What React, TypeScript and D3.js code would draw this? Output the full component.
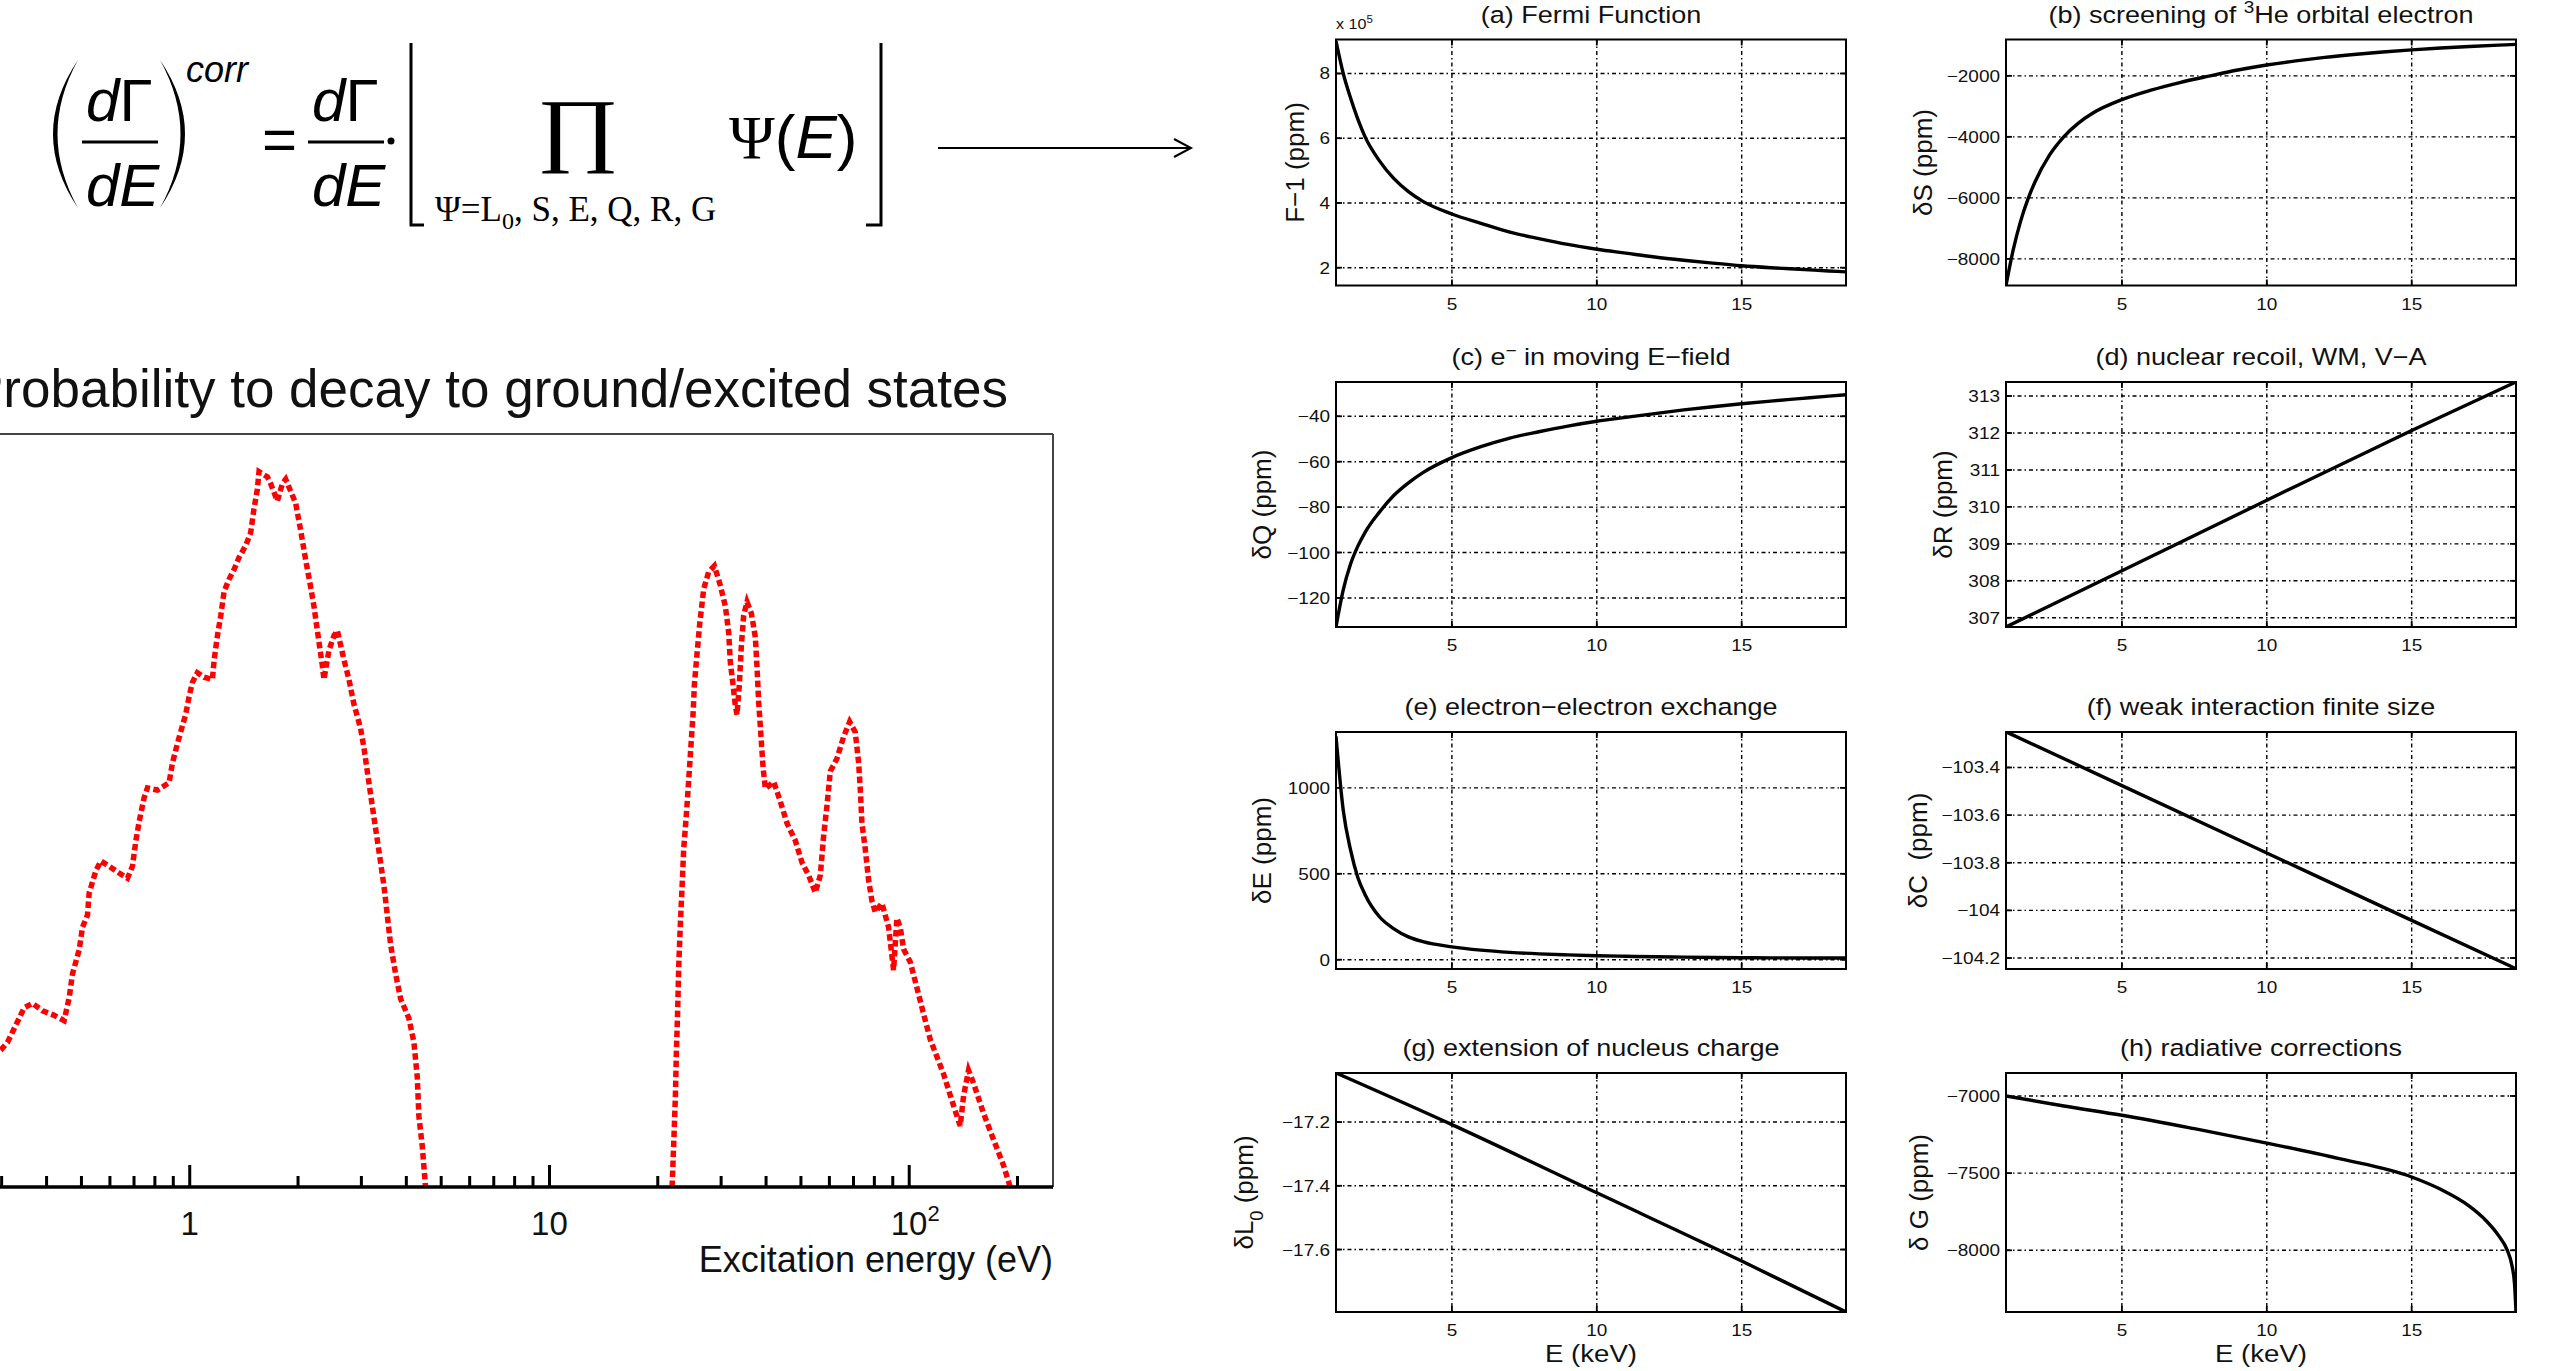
import React from 'react';
import * as d3 from 'd3';

// left plot: probability to decay to ground / excited states vs excitation energy (eV)
const lowBandEnergy = [0.27, 0.2985, 0.3114, 0.3286, 0.3466, 0.3656, 0.3898, 0.4199, 0.4475, 0.4621, 0.4721, 0.4928, 0.5034, 0.5196, 0.5252, 0.5481, 0.566, 0.5969, 0.6364, 0.6713, 0.693, 0.7079, 0.7232, 0.7467, 0.7628, 0.8131, 0.8762, 0.8952, 0.9242, 0.9747, 0.9957, 1.017, 1.05, 1.096, 1.156, 1.169, 1.194, 1.219, 1.246, 1.286, 1.328, 1.371, 1.431, 1.477, 1.509, 1.542, 1.558, 1.644, 1.679, 1.752, 1.809, 1.848, 1.908, 1.97, 2.034, 2.1, 2.168, 2.215, 2.263, 2.336, 2.361, 2.438, 2.517, 2.572, 2.684, 2.771, 2.861, 2.985, 3.05, 3.148, 3.251, 3.357, 3.466, 3.541, 3.617, 3.735, 3.856, 4.067, 4.199, 4.29, 4.335, 4.428, 4.524];
const lowBandProb = [0.165, 0.182, 0.192, 0.215, 0.238, 0.244, 0.234, 0.228, 0.221, 0.251, 0.283, 0.315, 0.345, 0.361, 0.39, 0.42, 0.433, 0.426, 0.417, 0.41, 0.426, 0.459, 0.485, 0.517, 0.53, 0.527, 0.537, 0.563, 0.589, 0.628, 0.651, 0.67, 0.683, 0.677, 0.674, 0.7, 0.732, 0.758, 0.791, 0.807, 0.82, 0.836, 0.852, 0.869, 0.901, 0.927, 0.95, 0.943, 0.934, 0.911, 0.934, 0.94, 0.924, 0.908, 0.872, 0.833, 0.797, 0.771, 0.739, 0.693, 0.674, 0.713, 0.732, 0.739, 0.7, 0.674, 0.641, 0.609, 0.583, 0.537, 0.491, 0.446, 0.4, 0.361, 0.322, 0.283, 0.25, 0.224, 0.192, 0.146, 0.094, 0.055, 0];
const highBandEnergy = [21.92, 22.15, 22.39, 22.53, 22.72, 22.87, 23.12, 23.36, 23.61, 24.02, 24.38, 24.74, 25.06, 25.28, 25.71, 26.16, 26.83, 27.7, 28.73, 29.85, 30.83, 31.49, 31.83, 32.38, 32.86, 33.21, 33.71, 34.15, 34.66, 35.41, 36.4, 37.35, 37.75, 38.15, 38.73, 39.23, 39.81, 42.0, 43.83, 45.74, 48.24, 50.34, 52.53, 54.82, 56.6, 57.81, 59.06, 60.34, 62.97, 65.71, 68.29, 70.79, 72.32, 73.1, 73.88, 75.47, 77.09, 78.76, 80.46, 83.96, 87.62, 90.47, 92.41, 94.41, 96.45, 100.6, 105.0, 109.6, 114.4, 119.4, 124.6, 131.4, 138.6, 141.6, 146.2, 150.9, 160.9, 171.5, 182.8, 190.8];
const highBandProb = [0, 0.058, 0.121, 0.179, 0.236, 0.293, 0.351, 0.397, 0.449, 0.495, 0.541, 0.587, 0.627, 0.667, 0.708, 0.748, 0.794, 0.817, 0.825, 0.799, 0.771, 0.736, 0.696, 0.667, 0.639, 0.627, 0.667, 0.719, 0.759, 0.777, 0.762, 0.73, 0.69, 0.644, 0.598, 0.558, 0.529, 0.538, 0.512, 0.483, 0.46, 0.431, 0.414, 0.391, 0.414, 0.466, 0.506, 0.552, 0.569, 0.598, 0.618, 0.604, 0.564, 0.529, 0.483, 0.449, 0.408, 0.38, 0.365, 0.377, 0.345, 0.288, 0.357, 0.345, 0.316, 0.299, 0.265, 0.23, 0.196, 0.173, 0.15, 0.115, 0.081, 0.121, 0.155, 0.138, 0.098, 0.063, 0.029, 0];
const excitationMajor = [0.1, 1, 10, 100];
const excitationMinor = [0.2, 0.3, 0.4, 0.5, 0.6, 0.7, 0.8, 0.9, 2, 3, 4, 5, 6, 7, 8, 9, 20, 30, 40, 50, 60, 70, 80, 90, 200];

// correction panels, E in keV
const energyKeV = [1, 1.25, 1.5, 1.75, 2, 2.5, 3, 3.5, 4, 5, 6, 7, 8, 9, 10, 11, 12, 13, 14, 15, 16, 17, 18, 18.6];
const fermiVals = [9.0, 8.0, 7.25, 6.6, 6.05, 5.3, 4.75, 4.35, 4.05, 3.66, 3.37, 3.1, 2.9, 2.72, 2.57, 2.45, 2.33, 2.23, 2.14, 2.06, 2.0, 1.95, 1.9, 1.87];
const screeningVals = [-8870, -7700, -6780, -6060, -5480, -4600, -3990, -3550, -3220, -2780, -2470, -2220, -2010, -1810, -1645, -1510, -1395, -1300, -1220, -1150, -1090, -1040, -995, -970];
const movingFieldVals = [-132.8, -116.5, -105.2, -97.3, -91.2, -82.2, -74.8, -69.3, -64.8, -58.2, -53.4, -49.6, -46.8, -44.3, -42.2, -40.5, -38.8, -37.2, -35.8, -34.5, -33.3, -32.2, -31.1, -30.5];
const exchangeVals = [1300, 870, 640, 480, 380, 250, 180, 133, 105, 75, 56, 43, 34, 28, 23, 20, 17, 15, 13, 11.5, 10.8, 10.2, 9.8, 9.6];
const lineEnergy = [1, 5, 10, 15, 18.6];
const recoilVals = [306.75, 308.27, 310.18, 312.07, 313.38];
const finiteSizeVals = [-103.25, -103.476, -103.759, -104.042, -104.245];
const nucleusChargeVals = [-17.046, -17.208, -17.422, -17.636, -17.796];
const radiativeEnergy = [1, 3, 5, 7.5, 10, 12.5, 15, 16, 17, 17.5, 18, 18.3, 18.45, 18.55, 18.6];
const radiativeVals = [-7000, -7065, -7125, -7212, -7305, -7406, -7525, -7605, -7715, -7795, -7905, -8000, -8090, -8220, -8400];
const keVTicks = [5, 10, 15];

const SANS = 'Liberation Sans, Arial, Helvetica, sans-serif';
const SERIF = 'Liberation Serif, Times New Roman, DejaVu Serif, serif';
const SX = 1.15; // figure text is a little wider than tall
const fmt = (d: number) => String(d).replace('-', '\u2212');

const cols = [[1336, 1846], [2006, 2516]];
const rows = [[39.5, 285.5], [382, 627], [732, 969], [1073, 1312]];

const sup = (s: string) => <tspan baselineShift="super" fontSize="70%">{s}</tspan>;

const panels = [
  { id: 'a', col: 0, row: 0, xs: energyKeV, ys: fermiVals, yDomain: [1.45, 9.05], yTicks: [2, 4, 6, 8], labX: 1295,
    title: <>(a) Fermi Function</>, ylabel: <>F{'\u2212'}1 (ppm)</> },
  { id: 'b', col: 1, row: 0, xs: energyKeV, ys: screeningVals, yDomain: [-8874, -809], yTicks: [-8000, -6000, -4000, -2000], labX: 1923,
    title: <>(b) screening of {sup('3')}He orbital electron</>, ylabel: <>δS (ppm)</> },
  { id: 'c', col: 0, row: 1, xs: energyKeV, ys: movingFieldVals, yDomain: [-132.8, -24.9], yTicks: [-120, -100, -80, -60, -40], labX: 1262,
    title: <>(c) e{sup('\u2212')} in moving E{'\u2212'}field</>, ylabel: <>δQ (ppm)</> },
  { id: 'd', col: 1, row: 1, xs: lineEnergy, ys: recoilVals, yDomain: [306.75, 313.38], yTicks: [307, 308, 309, 310, 311, 312, 313], labX: 1943,
    title: <>(d) nuclear recoil, WM, V{'\u2212'}A</>, ylabel: <>δR (ppm)</> },
  { id: 'e', col: 0, row: 2, xs: energyKeV, ys: exchangeVals, yDomain: [-54, 1325], yTicks: [0, 500, 1000], labX: 1262,
    title: <>(e) electron{'\u2212'}electron exchange</>, ylabel: <>δE (ppm)</> },
  { id: 'f', col: 1, row: 2, xs: lineEnergy, ys: finiteSizeVals, yDomain: [-104.246, -103.251], yTicks: [-104.2, -104, -103.8, -103.6, -103.4], labX: 1918,
    title: <>(f) weak interaction finite size</>, ylabel: <>δC  (ppm)</> },
  { id: 'g', col: 0, row: 3, xs: lineEnergy, ys: nucleusChargeVals, yDomain: [-17.796, -17.046], yTicks: [-17.6, -17.4, -17.2], labX: 1244,
    title: <>(g) extension of nucleus charge</>, ylabel: <>δL<tspan baselineShift="sub" fontSize="70%">0</tspan> (ppm)</> },
  { id: 'h', col: 1, row: 3, xs: radiativeEnergy, ys: radiativeVals, yDomain: [-8400, -6851], yTicks: [-8000, -7500, -7000], labX: 1919,
    title: <>(h) radiative corrections</>, ylabel: <>δ G (ppm)</> },
];

function SText(props: { x: number; y: number; size: number; anchor?: string; children: React.ReactNode; style?: any }) {
  return (
    <text transform={`translate(${props.x},${props.y}) scale(${SX},1)`} fontSize={props.size}
      textAnchor={props.anchor || 'start'} fontFamily={SANS} fill="#111" style={props.style}>
      {props.children}
    </text>
  );
}

function Panel({ p }: { p: any }) {
  const [x0, x1] = cols[p.col];
  const [y0, y1] = rows[p.row];
  const x = d3.scaleLinear().domain([1, 18.6]).range([x0, x1]);
  const y = d3.scaleLinear().domain(p.yDomain).range([y1, y0]);
  const line = d3.line<number>()
    .x((d, i) => x(p.xs[i]))
    .y(d => y(d))
    .curve(d3.curveMonotoneX);
  const grid = '4 3 1.5 3';
  const tl = 6;
  return (
    <g>
      <clipPath id={`clip-${p.id}`}>
        <rect x={x0} y={y0} width={x1 - x0} height={y1 - y0} />
      </clipPath>
      {keVTicks.map(t => (
        <g key={'vx' + t}>
          <line x1={x(t)} x2={x(t)} y1={y0} y2={y1} stroke="#000" strokeWidth={1.4} strokeDasharray={grid} />
          <line x1={x(t)} x2={x(t)} y1={y1} y2={y1 - tl} stroke="#000" strokeWidth={1.8} />
          <line x1={x(t)} x2={x(t)} y1={y0} y2={y0 + tl} stroke="#000" strokeWidth={1.8} />
          <SText x={x(t)} y={y1 + 24} size={16.5} anchor="middle">{t}</SText>
        </g>
      ))}
      {p.yTicks.map((t: number) => (
        <g key={'hy' + t}>
          <line x1={x0} x2={x1} y1={y(t)} y2={y(t)} stroke="#000" strokeWidth={1.4} strokeDasharray={grid} />
          <line x1={x0} x2={x0 + tl} y1={y(t)} y2={y(t)} stroke="#000" strokeWidth={1.8} />
          <line x1={x1} x2={x1 - tl} y1={y(t)} y2={y(t)} stroke="#000" strokeWidth={1.8} />
          <SText x={x0 - 6} y={y(t) + 6} size={16.5} anchor="end">{fmt(t)}</SText>
        </g>
      ))}
      <path d={line(p.ys) || ''} fill="none" stroke="#000" strokeWidth={3.4} clipPath={`url(#clip-${p.id})`} />
      <rect x={x0} y={y0} width={x1 - x0} height={y1 - y0} fill="none" stroke="#000" strokeWidth={2} />
      <SText x={(x0 + x1) / 2} y={y0 - 17} size={23.5} anchor="middle">{p.title}</SText>
      <text transform={`translate(${p.labX + 9},${(y0 + y1) / 2}) rotate(-90)`} fontSize={26}
        fontFamily={SANS} textAnchor="middle" fill="#111" style={{ whiteSpace: 'pre' }}>{p.ylabel}</text>
      {p.id === 'a' && (
        <SText x={x0} y={29} size={14}>x 10<tspan fontSize={10} dy={-6}>5</tspan></SText>
      )}
      {p.row === 3 && (
        <SText x={(x0 + x1) / 2} y={1362} size={24} anchor="middle">E (keV)</SText>
      )}
    </g>
  );
}

function ExcitationPlot() {
  const x = d3.scaleLog().domain([0.1, 251]).range([-170, 1053]);
  const y = d3.scaleLinear().domain([0, 1]).range([1187, 434]);
  const low = d3.line<number>().x((d, i) => x(lowBandEnergy[i])).y(d => y(d));
  const high = d3.line<number>().x((d, i) => x(highBandEnergy[i])).y(d => y(d));
  const [xl, xr] = x.range();
  return (
    <g>
      <text x={1008} y={407} fontSize={53} fontFamily={SANS} textAnchor="end" fill="#111">
        Probability to decay to ground/excited states
      </text>
      <line x1={xl} x2={xr} y1={y(1)} y2={y(1)} stroke="#444" strokeWidth={2} />
      <line x1={xr} x2={xr} y1={y(1)} y2={y(0)} stroke="#444" strokeWidth={2} />
      <path d={low(lowBandProb) || ''} fill="none" stroke="#ff0000" strokeWidth={5.5} strokeDasharray="6.5 3.5" />
      <path d={high(highBandProb) || ''} fill="none" stroke="#ff0000" strokeWidth={5.5} strokeDasharray="6.5 3.5" />
      <line x1={xl} x2={xr} y1={y(0)} y2={y(0)} stroke="#000" strokeWidth={3.5} />
      {excitationMajor.map(t => (
        <line key={'M' + t} x1={x(t)} x2={x(t)} y1={y(0)} y2={y(0) - 22} stroke="#000" strokeWidth={3} />
      ))}
      {excitationMinor.map(t => (
        <line key={'m' + t} x1={x(t)} x2={x(t)} y1={y(0)} y2={y(0) - 11} stroke="#000" strokeWidth={3} />
      ))}
      <text x={x(1)} y={1235} fontSize={33} fontFamily={SANS} textAnchor="middle" fill="#111">1</text>
      <text x={x(10)} y={1235} fontSize={33} fontFamily={SANS} textAnchor="middle" fill="#111">10</text>
      <text x={x(100) + 6} y={1235} fontSize={33} fontFamily={SANS} textAnchor="middle" fill="#111">
        10<tspan fontSize={22} dy={-14}>2</tspan>
      </text>
      <text x={xr} y={1272} fontSize={36} fontFamily={SANS} textAnchor="end" fill="#111">Excitation energy (eV)</text>
    </g>
  );
}

function Formula() {
  const big = 60;
  return (
    <g fill="#000">
      <path d="M78,60 Q28,134 78,208 Q37,134 78,60 Z" />
      <path d="M160,60 Q210,134 160,208 Q201,134 160,60 Z" />
      <text x={86} y={121} fontSize={big} fontFamily={SANS}><tspan fontStyle="italic">d</tspan>Γ</text>
      <line x1={82} x2={158} y1={142} y2={142} stroke="#000" strokeWidth={3} />
      <text x={86} y={206} fontSize={big} fontFamily={SANS} fontStyle="italic">dE</text>
      <text x={186} y={82} fontSize={36} fontFamily={SANS} fontStyle="italic">corr</text>
      <text x={262} y={160} fontSize={big} fontFamily={SANS}>=</text>
      <text x={312} y={121} fontSize={big} fontFamily={SANS}><tspan fontStyle="italic">d</tspan>Γ</text>
      <line x1={308} x2={384} y1={142} y2={142} stroke="#000" strokeWidth={3} />
      <text x={312} y={206} fontSize={big} fontFamily={SANS} fontStyle="italic">dE</text>
      <circle cx={391} cy={141} r={3.5} />
      <path d="M411,43 V225 H424" fill="none" stroke="#000" strokeWidth={3} />
      <path d="M881,43 V225 H866" fill="none" stroke="#000" strokeWidth={3} />
      <text transform="translate(578,156) scale(1.22,1)" fontSize={82} fontFamily={SERIF} textAnchor="middle">∏</text>
      <text x={435} y={221} fontSize={35} fontFamily={SERIF}>
        Ψ=L<tspan fontSize={24} dy={8}>0</tspan><tspan dy={-8}>, S, E, Q, R, G</tspan>
      </text>
      <text x={729} y={158} fontSize={62}>
        <tspan fontFamily={SERIF}>Ψ</tspan>
        <tspan fontFamily={SANS}>(</tspan>
        <tspan fontFamily={SANS} fontStyle="italic">E</tspan>
        <tspan fontFamily={SANS}>)</tspan>
      </text>
      <line x1={938} x2={1190} y1={148} y2={148} stroke="#000" strokeWidth={2} />
      <path d="M1174,139 L1191,148 L1174,157" fill="none" stroke="#000" strokeWidth={2} />
    </g>
  );
}

export default function App() {
  return (
    <svg width={2557} height={1371} style={{ position: 'absolute', left: 0, top: 0, background: '#fff' }}>
      <rect width={2557} height={1371} fill="#fff" />
      <Formula />
      <ExcitationPlot />
      {panels.map(p => <Panel key={p.id} p={p} />)}
    </svg>
  );
}
